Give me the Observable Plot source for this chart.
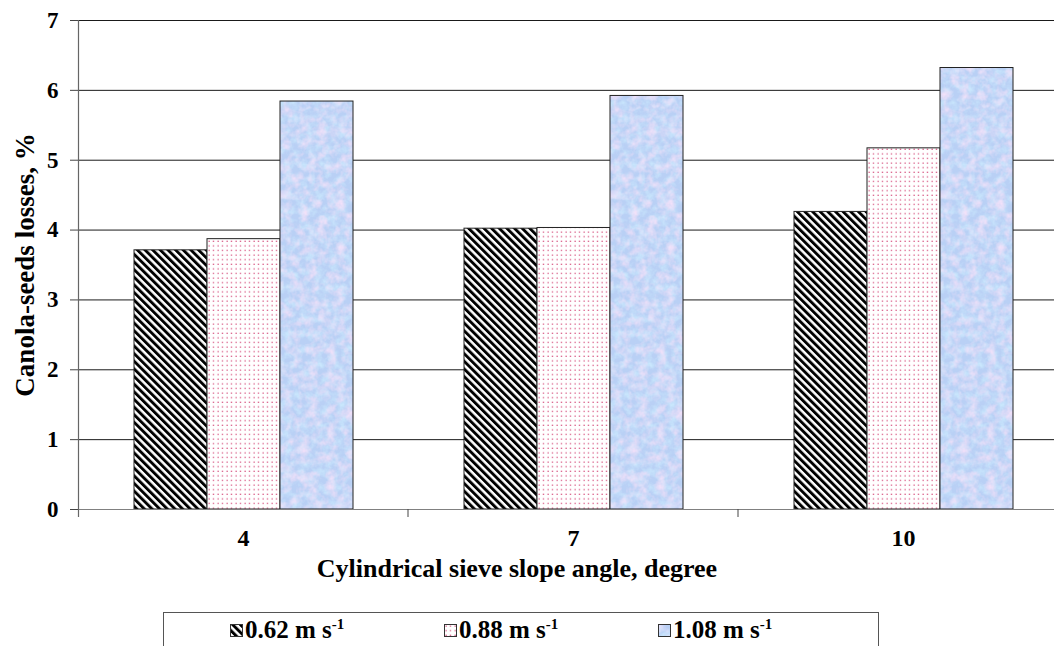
<!DOCTYPE html>
<html>
<head>
<meta charset="utf-8">
<script src="https://cdn.jsdelivr.net/npm/d3@7"></script>
<script src="https://cdn.jsdelivr.net/npm/@observablehq/plot@0.6"></script>
<style>
  body { margin: 0; background: #fff; font-family: "Liberation Serif", "Times New Roman", Tinos, "DejaVu Serif", serif; }
  #wrap { position: relative; width: 1054px; height: 646px; overflow: hidden; }
  #xtitle { position: absolute; left: 0; width: 1034px; top: 556px; line-height: 26px; text-align: center; font-weight: bold; font-size: 26px; color: #000; }
  #legend { position: absolute; left: 163px; top: 612px; width: 716px; height: 50px; border: 1px solid #555; box-sizing: border-box; font-weight: bold; font-size: 25px; }
  .item { position: absolute; top: 3px; display: flex; align-items: center; white-space: nowrap; line-height: 28px; }
  sup { font-size: 15px; vertical-align: 9px; line-height: 0; }
</style>
</head>
<body>
<div id="wrap">
  <div id="chart"></div>
  <div id="xtitle"></div>
  <div id="legend"></div>
</div>
<script>
// ---- data ----
const angles = ["4", "7", "10"];
const speeds = ["0.62", "0.88", "1.08"];
const losses062 = [3.71, 4.02, 4.26];
const losses088 = [3.87, 4.03, 5.17];
const losses108 = [5.84, 5.92, 6.32];
const yTicks = [0, 1, 2, 3, 4, 5, 6, 7];
const xTitle = "Cylindrical sieve slope angle, degree";
const yTitle = "Canola-seeds losses, %";

const series = [losses062, losses088, losses108];
const rows = [];
speeds.forEach((s, i) => angles.forEach((a, j) => rows.push({angle: a, speed: s, value: series[i][j]})));
const fills = ["url(#pHatch)", "url(#pDots)", "url(#pBlue)"];

const serif = "'Liberation Serif', 'Times New Roman', Tinos, 'DejaVu Serif', serif";
const font = {fontFamily: serif, fontWeight: "bold", fontSize: "22px", color: "#000", background: "transparent"};

const chart = Plot.plot({
  width: 1054,
  height: 600,
  marginTop: 20,
  marginBottom: 91,
  marginLeft: 78,
  marginRight: -14,
  style: font,
  fx: {domain: angles, padding: 0},
  x: {domain: speeds, paddingInner: 0, paddingOuter: 0.76, axis: null},
  y: {domain: [0, 7]},
  marks: [
    Plot.ruleY(yTicks.filter(d => d > 0), {stroke: "#1a1a1a", strokeWidth: 1}),
    ...speeds.map((s, i) => Plot.barY(rows.filter(d => d.speed === s), {
      fx: "angle", x: "speed", y: "value", fill: fills[i], stroke: "#222", strokeWidth: 1
    })),
    Plot.ruleY([0], {stroke: "#808080", strokeWidth: 1.2}),
    Plot.axisY({ticks: yTicks, tickSize: 8, tickPadding: 12, tickFormat: d => d, label: null, stroke: "#444", fontSize: 23}),
    Plot.axisY({ticks: [], label: yTitle, labelAnchor: "center", labelArrow: "none", labelOffset: 64, fontSize: 27}),
    Plot.axisFx({anchor: "bottom", tickSize: 0, tickPadding: 19, label: null, fontSize: 24})
  ]
});

document.getElementById("chart").appendChild(chart);
chart.querySelectorAll("text").forEach(t => t.style.fontFamily = serif);

// pattern definitions
const svg = d3.select(chart);
const defs = svg.insert("defs", ":first-child");
const ph = defs.append("pattern").attr("id", "pHatch").attr("patternUnits", "userSpaceOnUse")
  .attr("width", 5.4).attr("height", 5.4).attr("patternTransform", "rotate(-45)");
ph.append("rect").attr("width", 5.4).attr("height", 5.4).attr("fill", "#fff");
ph.append("rect").attr("width", 2.9).attr("height", 5.4).attr("fill", "#000");

const pd = defs.append("pattern").attr("id", "pDots").attr("patternUnits", "userSpaceOnUse")
  .attr("width", 4.5).attr("height", 4.6);
pd.append("rect").attr("width", 4.5).attr("height", 4.6).attr("fill", "#fff");
pd.append("rect").attr("x", 1.5).attr("y", 1.5).attr("width", 1.2).attr("height", 1.2).attr("fill", "#d23f72");

const f = defs.append("filter").attr("id", "mottle").attr("x", 0).attr("y", 0).attr("width", "100%").attr("height", "100%");
f.append("feTurbulence").attr("type", "fractalNoise").attr("baseFrequency", 0.11).attr("numOctaves", 3).attr("seed", 4).attr("result", "n");
f.append("feColorMatrix").attr("in", "n").attr("type", "matrix")
  .attr("values", "0 0 0 0 0.93  0 0 0 0 0.76  0 0 0 0 0.95  1.8 0 0 0 -0.72");
const f2 = defs.append("filter").attr("id", "mottle2").attr("x", 0).attr("y", 0).attr("width", "100%").attr("height", "100%");
f2.append("feTurbulence").attr("type", "fractalNoise").attr("baseFrequency", 0.13).attr("numOctaves", 3).attr("seed", 11).attr("result", "n");
f2.append("feColorMatrix").attr("in", "n").attr("type", "matrix")
  .attr("values", "0 0 0 0 0.6  0 0 0 0 0.82  0 0 0 0 0.99  1.8 0 0 0 -0.7");
const pb = defs.append("pattern").attr("id", "pBlue").attr("patternUnits", "userSpaceOnUse").attr("width", 1100).attr("height", 620);
pb.append("rect").attr("width", 1100).attr("height", 620).attr("fill", "#b9d0f5");
pb.append("rect").attr("width", 1100).attr("height", 620).attr("filter", "url(#mottle2)");
pb.append("rect").attr("width", 1100).attr("height", 620).attr("filter", "url(#mottle)");

// y axis line and category boundary ticks from the fx scale
const fx = chart.scale("fx");
const y = chart.scale("y");
const y0 = y.apply(0), y7 = y.apply(7);
const xs = angles.map(a => fx.apply(a));
xs.push(xs[xs.length - 1] + fx.bandwidth);
svg.append("line").attr("x1", xs[0] + 0.5).attr("x2", xs[0] + 0.5).attr("y1", y7).attr("y2", y0 + 8)
  .attr("stroke", "#666").attr("stroke-width", 1.2);
xs.slice(1).forEach(x => svg.append("line").attr("x1", x).attr("x2", x).attr("y1", y0).attr("y2", y0 + 8)
  .attr("stroke", "#444").attr("stroke-width", 1));

document.getElementById("xtitle").textContent = xTitle;

// legend
const leg = document.getElementById("legend");
const lefts = [66, 280, 494];
speeds.forEach((s, i) => {
  const it = document.createElement("div");
  it.className = "item";
  it.style.left = lefts[i] + "px";
  const sw = document.createElementNS("http://www.w3.org/2000/svg", "svg");
  sw.setAttribute("width", 13); sw.setAttribute("height", 13);
  sw.style.marginRight = "2px";
  sw.innerHTML = `<rect x="0.5" y="0.5" width="12" height="12" fill="${fills[i]}" stroke="#333"/>`;
  it.appendChild(sw);
  const t = document.createElement("span");
  t.innerHTML = `${s} m s<sup>-1</sup>`;
  it.appendChild(t);
  leg.appendChild(it);
});
</script>
</body>
</html>
